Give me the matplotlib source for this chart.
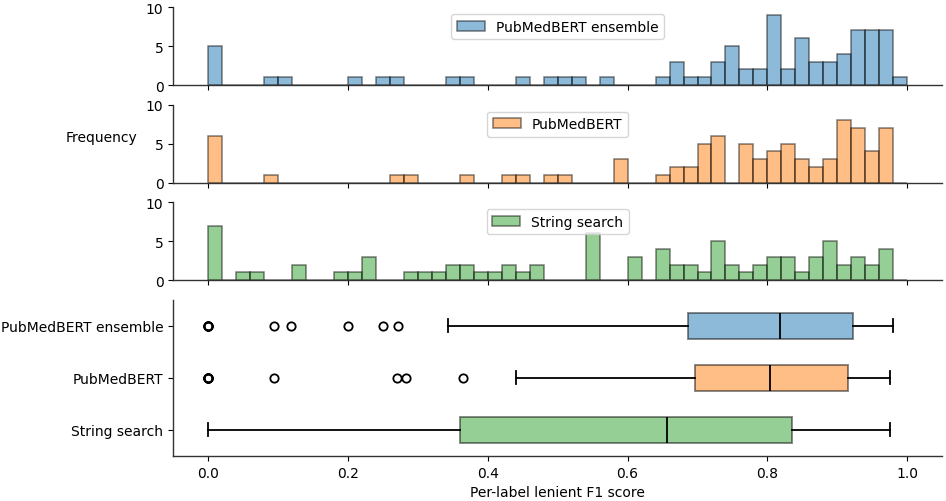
import numpy as np
import matplotlib
matplotlib.use("Agg")
import matplotlib.pyplot as plt

# histogram counts per bin (50 bins of width 0.02 between 0 and 1)
bin_edges = np.linspace(0, 1, 51)

ensemble_counts = [5, 0, 0, 0, 1, 1, 0, 0, 0, 0,
                   1, 0, 1, 1, 0, 0, 0, 1, 1, 0,
                   0, 0, 1, 0, 1, 1, 1, 0, 1, 0,
                   0, 0, 1, 3, 1, 1, 3, 5, 2, 2,
                   9, 2, 6, 3, 3, 4, 7, 7, 7, 1]

pubmedbert_counts = [6, 0, 0, 0, 1, 0, 0, 0, 0, 0,
                     0, 0, 0, 1, 1, 0, 0, 0, 1, 0,
                     0, 1, 1, 0, 1, 1, 0, 0, 0, 3,
                     0, 0, 1, 2, 2, 5, 6, 0, 5, 3,
                     4, 5, 3, 2, 3, 8, 7, 4, 7, 0]

string_counts = [7, 0, 1, 1, 0, 0, 2, 0, 0, 1,
                 1, 3, 0, 0, 1, 1, 1, 2, 2, 1,
                 1, 2, 1, 2, 0, 0, 0, 6, 0, 0,
                 3, 0, 4, 2, 2, 1, 5, 2, 1, 2,
                 3, 3, 1, 3, 5, 2, 3, 2, 4, 0]

names = ["PubMedBERT ensemble", "PubMedBERT", "String search"]
colors = ["tab:blue", "tab:orange", "tab:green"]

# boxplot summary
q1 = [0.686, 0.696, 0.361]
med = [0.818, 0.804, 0.656]
q3 = [0.922, 0.915, 0.835]
whislo = [0.343, 0.440, 0.0]
whishi = [0.980, 0.975, 0.975]
fliers = [
    [0.0, 0.0, 0.0, 0.0, 0.0, 0.095, 0.119, 0.200, 0.250, 0.271],
    [0.0, 0.0, 0.0, 0.0, 0.0, 0.0, 0.095, 0.270, 0.283, 0.364],
    [],
]

plt.rcParams["axes.linewidth"] = 1.0
plt.rcParams["axes.edgecolor"] = "#333333"

fig = plt.figure(figsize=(9.46, 5.02), dpi=100)
gs = fig.add_gridspec(4, 1, height_ratios=[1, 1, 1, 2], hspace=0.2,
                      left=0.183, right=0.996, top=0.984, bottom=0.09)
axes = [fig.add_subplot(gs[i]) for i in range(4)]
for ax in axes[1:]:
    ax.sharex(axes[0])

centers = (bin_edges[:-1] + bin_edges[1:]) / 2
all_counts = [ensemble_counts, pubmedbert_counts, string_counts]
for ax, counts, name, c in zip(axes[:3], all_counts, names, colors):
    ax.hist(centers, bins=bin_edges, weights=counts, color=c, alpha=0.5,
            edgecolor="black", linewidth=1.1, label=name)
    ax.set_ylim(0, 10)
    ax.set_yticks([0, 5, 10])
    ax.legend(loc="upper center")
    ax.tick_params(labelbottom=False)
    ax.spines["top"].set_visible(False)
    ax.spines["right"].set_visible(False)

axes[1].set_ylabel("Frequency", rotation=0, ha="right", labelpad=6)

# boxplot panel
stats = []
for i in range(3):
    stats.append(dict(label=names[i], q1=q1[i], med=med[i], q3=q3[i],
                      whislo=whislo[i], whishi=whishi[i], fliers=fliers[i]))

bx = axes[3]
lw = 1.3
bp = bx.bxp(stats, positions=[3, 2, 1], orientation="horizontal",
            patch_artist=True, widths=0.5,
            boxprops=dict(linewidth=lw),
            whiskerprops=dict(linewidth=lw),
            capprops=dict(linewidth=lw),
            medianprops=dict(color="black", linewidth=lw),
            flierprops=dict(marker="o", markerfacecolor="none",
                            markeredgecolor="black", markeredgewidth=lw))
for patch, c in zip(bp["boxes"], colors):
    patch.set_facecolor(c)
    patch.set_edgecolor("black")
    patch.set_alpha(0.5)
bx.set_ylim(0.5, 3.5)
bx.set_xlim(-0.05, 1.05)
bx.set_xticks([0, 0.2, 0.4, 0.6, 0.8, 1.0])
bx.set_xlabel("Per-label lenient F1 score")
bx.spines["top"].set_visible(False)
bx.spines["right"].set_visible(False)

plt.savefig("out.png", dpi=100)
